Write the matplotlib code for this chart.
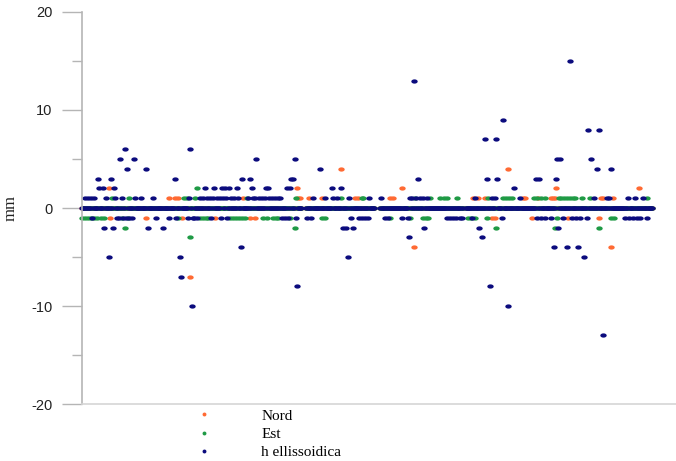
import numpy as np
import matplotlib
matplotlib.use("Agg")
from matplotlib import pyplot as plt
from matplotlib.path import Path
from matplotlib.lines import Line2D

plt.rcParams['axes.unicode_minus'] = False

# giorni di osservazione (0 .. 570), con alcune interruzioni senza dati
ultimo_giorno = 570
buchi = [(220, 223), (293, 297), (382, 383)]

# scarti diversi da zero (mm); tutti gli altri giorni valgono 0
nord_giorni = [27, 28, 64, 87, 93, 96, 100, 108, 133, 161, 168, 173, 215, 216, 218,
               227, 240, 259, 273, 276, 308, 311, 320, 332, 391, 396, 403, 410, 413,
               426, 441, 443, 450, 456, 469, 471, 473, 474, 486, 517, 519, 521, 529,
               531, 557]
nord_mm = [2, -1, -1, 1, 1, 1, -1, -7, -1, 1, -1, -1, 2, 1, 1,
           1, 1, 4, 1, 1, 1, 1, 2, -4, 1, 1, 1, -1, -1,
           4, 1, 1, -1, 1, 1, 1, 1, 2, -1, -1, 1, 1, -4,
           1, 2]

est_giorni = [0, 3, 6, 9, 12, 15, 19, 22, 30, 40, 43, 46, 47, 96, 102, 105, 108, 113,
              115, 118, 121, 124, 126, 148, 151, 154, 157, 160, 163, 165, 181, 185,
              191, 194, 196, 208, 213, 214, 240, 243, 259, 280, 281, 308, 328, 333,
              341, 344, 346, 348, 358, 362, 365, 375, 386, 389, 393, 405, 406, 414,
              421, 424, 427, 430, 452, 455, 459, 463, 473, 475, 477, 479, 482, 485,
              488, 491, 493, 500, 508, 517, 529, 532, 565]
est_mm = [-1, -1, -1, -1, -1, -1, -1, -1, 1, -1, -2, -1, 1, -1, 1, 1, -3, 1,
          2, -1, -1, -1, -1, -1, -1, -1, -1, -1, -1, 1, -1, -1,
          -1, -1, -1, -1, -2, 1, -1, -1, 1, 1, 1, -1, -1, 1,
          -1, -1, -1, 1, 1, 1, 1, 1, -1, -1, -1, -1, 1, -2,
          1, 1, 1, 1, 1, 1, 1, 1, -2, -1, 1, 1, 1, 1,
          1, 1, 1, 1, 1, -2, -1, -1, 1]

h_giorni = [3, 6, 9, 10, 12, 16, 17, 21, 22, 24, 27, 29, 31, 32, 33, 35, 37, 38, 40,
            41, 43, 44, 45, 47, 50, 52, 53, 59, 64, 66, 71, 74, 81, 87, 93, 94, 98,
            99, 106, 107, 108, 110, 111, 112, 115,
            118, 121, 123, 125, 128, 129, 131, 132, 135, 138, 139, 140, 141, 143,
            144, 145, 147, 149, 152, 155, 156, 159, 160,
            166, 168, 170, 171, 173, 174, 177, 180, 183, 184, 186, 187, 190, 193,
            196, 198, 200, 203, 205, 206, 208, 209, 211, 213, 214, 215,
            225, 229, 231, 238, 243, 250, 251, 255, 259, 261, 264, 266, 267, 269,
            271, 277, 280, 283, 286, 287, 299,
            303, 306, 320, 326, 327, 328, 330, 332, 334, 336, 338, 341, 342, 345,
            365, 368, 371, 374, 378, 380, 390, 393, 397, 400, 403, 405, 408, 410,
            413, 414, 415, 420, 421, 426, 432, 438,
            454, 455, 457, 459, 463, 469, 472, 474, 475, 476, 478, 481, 485, 488,
            490, 494, 496, 498, 502, 505, 506, 509, 512, 515, 517, 521, 525, 527,
            529, 543, 546, 547, 551, 553, 555, 558, 561, 565]
h_mm = [1, 1, 1, -1, 1, 3, 2, 2, -2, 1, -5, 3, -2, 2, 1, -1, -1, 5, 1,
        -1, 6, -1, 4, -1, -1, 5, 1, 1, 4, -2, 1, -1, -2, -1, 3, -1, -5,
        -7, -1, 1, 6, -10, -1, -1, -1,
        1, 1, 2, 1, 1, -1, 1, 2, 1, 1, -1, 2, 1, 2,
        1, -1, 2, 1, 1, 2, 1, -4, 3,
        1, 3, 2, 1, 1, 5, 1, 1, 1, 2, 2, 1, 1, 1,
        1, 1, -1, -1, 2, -1, 2, 3, 3, 5, -1, -8,
        -1, -1, 1, 4, 1, 2, 1, 1, 2, -2, -2, -5, 1, -1,
        -2, -1, -1, -1, -1, 1, 1,
        -1, -1, -1, -1, -3, 1, 1, 13, 1, 3, 1, 1, -2, 1,
        -1, -1, -1, -1, -1, -1, -1, 1, -2, -3, 7, 3, -8, 1,
        1, 7, 3, -1, 9, -10, 2, 1,
        3, -1, 3, -1, -1, -1, -4, 3, 5, -2, 5, -1, -4, 15,
        -1, -1, -4, -1, -5, -1, 8, 5, 1, 4, 8, -13, 1, 1,
        4, -1, 1, -1, -1, 1, -1, -1, 1, -1]

giorni = np.arange(ultimo_giorno + 1)
presente = np.ones(len(giorni), dtype=bool)
for a, b in buchi:
    presente[a:b + 1] = False


def serie_completa(giorni_nz, valori_nz):
    v = np.zeros(len(giorni))
    v[giorni_nz] = valori_nz
    return v


nord = serie_completa(nord_giorni, nord_mm)
est = serie_completa(est_giorni, est_mm)
h = serie_completa(h_giorni, h_mm)

# marker ellittico, come nell'immagine originale
t = np.linspace(0, 2 * np.pi, 41)
ellisse = Path(np.column_stack([1.5 * np.cos(t), np.sin(t)]), closed=True)

fig = plt.figure(figsize=(6.76, 4.61), dpi=100)
ax = fig.add_axes([82 / 676, 1 - 404 / 461, 594 / 676, 392 / 461])

colori = {'Nord': '#ff6a33', 'Est': '#1f9a45', 'h ellissoidica': '#0b0b7d'}
for nome, valori in [('Nord', nord), ('Est', est), ('h ellissoidica', h)]:
    ax.plot(giorni[presente], valori[presente], ls='none', marker=ellisse, ms=4.6,
            mew=0, color=colori[nome], clip_on=False)

ax.set_xlim(0, 594)
ax.set_ylim(-20, 20)
ax.set_yticks([-20, -10, 0, 10, 20])
ax.set_yticks([-15, -5, 5, 15], minor=True)
ax.set_xticks([])
ax.tick_params(axis='y', which='major', direction='out', length=14.4, width=1,
               color='#b5b5b5', pad=7, labelsize=10.5, labelcolor='#222222')
ax.tick_params(axis='y', which='minor', direction='out', length=7.2, width=1,
               color='#b5b5b5')
for lab in ax.get_yticklabels():
    lab.set_family('Liberation Sans')

for s in ['top', 'right']:
    ax.spines[s].set_visible(False)
ax.spines['left'].set_color('#b5b5b5')
ax.spines['left'].set_linewidth(1.2)
ax.spines['bottom'].set_color('#d5d5d5')
ax.spines['bottom'].set_linewidth(1.2)

ax.set_ylabel('mm', family='Liberation Serif', fontsize=12, color='#222222')
ax.yaxis.set_label_coords(-0.106, 0.5)

maniglie = [Line2D([], [], ls='none', marker='o', ms=2.8, mew=0, color=c)
            for c in colori.values()]
fig.legend(maniglie, list(colori.keys()), loc='upper left',
           bbox_to_anchor=(196.5 / 676, 1 - 409 / 461), frameon=False,
           borderaxespad=0, borderpad=0, handlelength=1.0, handletextpad=3.25,
           labelspacing=0.3, prop={'family': 'Liberation Serif', 'size': 11})

fig.savefig('out.png', dpi=100)
